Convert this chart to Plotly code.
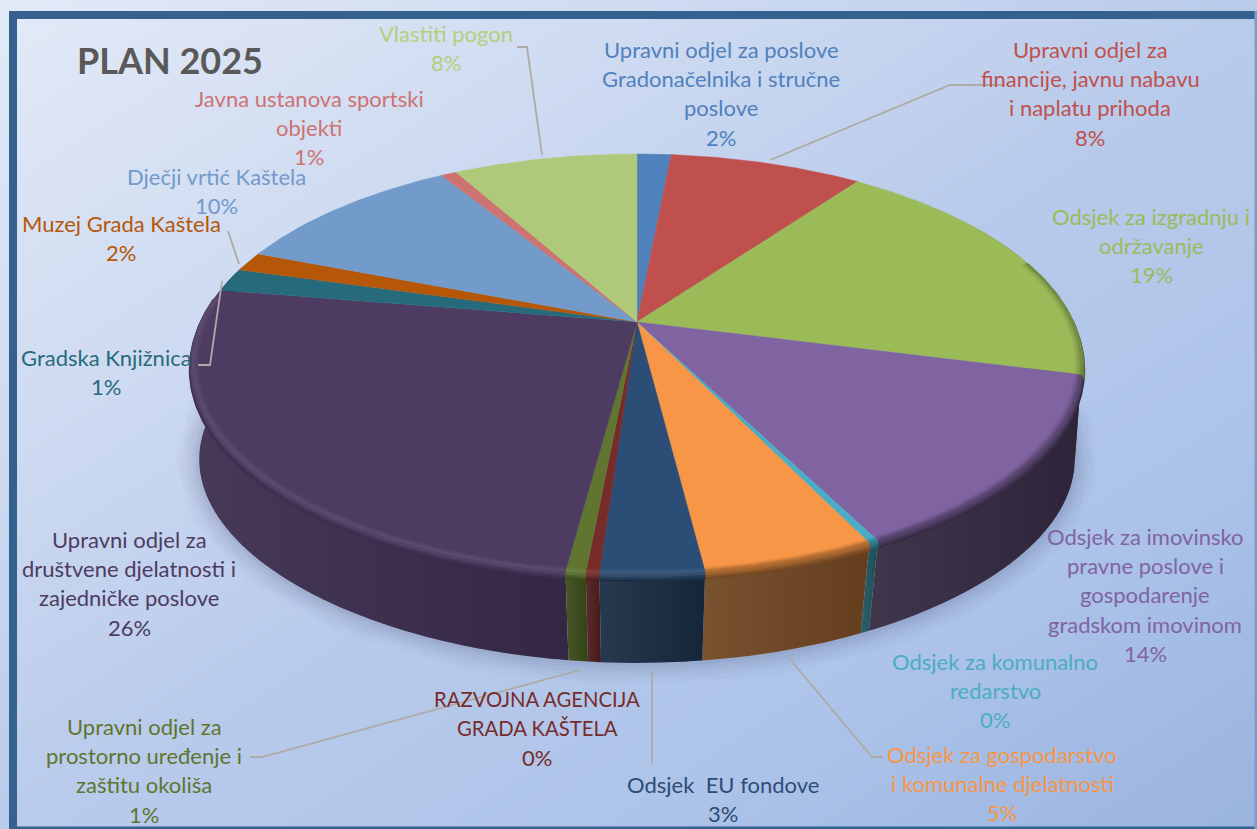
import math
import plotly.graph_objects as go

# ---- data ----
categories = [
    "Upravni odjel za poslove Gradonačelnika i stručne poslove",
    "Upravni odjel za financije, javnu nabavu i naplatu prihoda",
    "Odsjek za izgradnju i održavanje",
    "Odsjek za imovinsko pravne poslove i gospodarenje gradskom imovinom",
    "Odsjek za komunalno redarstvo",
    "Odsjek za gospodarstvo i komunalne djelatnosti",
    "Odsjek  EU fondove",
    "RAZVOJNA AGENCIJA GRADA KAŠTELA",
    "Upravni odjel za prostorno uređenje i zaštitu okoliša",
    "Upravni odjel za društvene djelatnosti i zajedničke poslove",
    "Gradska Knjižnica",
    "Muzej Grada Kaštela",
    "Dječji vrtić Kaštela",
    "Javna ustanova sportski objekti",
    "Vlastiti pogon",
]
values = [1.5, 8.5, 19.0, 13.5, 0.3, 5.2, 3.1, 0.4, 0.6, 25.5, 1.8, 1.5, 10.3, 0.7, 8.1]
percent_labels = ["2%", "8%", "19%", "14%", "0%", "5%", "3%", "0%", "1%", "26%", "1%", "2%", "10%", "1%", "8%"]
top_colors = ["#4f81bd", "#c0504d", "#9bbb59", "#8064a2", "#4bacc6", "#f79646", "#2c4d75", "#772c2a",
              "#5f7530", "#4d3b62", "#276a7c", "#b65708", "#729aca", "#cd7371", "#afc97a"]
side_colors = ["#27405e", "#602826", "#4d5d2c", "#332840", "#1f5560", "#6f4520", "#172a41", "#4f1c1c",
               "#3a4a18", "#392b4c", "#143a44", "#5b2c04", "#394d65", "#663938", "#57643d"]
label_colors = ["#4f81bd", "#c0504d", "#9bbb59", "#8064a2", "#4bacc6", "#f79646", "#2c4d75", "#772c2a",
                "#5f7530", "#4d3b62", "#276a7c", "#b65708", "#729aca", "#cd7371", "#b3cf7e"]
label_lines = [
    ["Upravni odjel za poslove", "Gradonačelnika i stručne", "poslove"],
    ["Upravni odjel za", "financije, javnu nabavu", "i naplatu prihoda"],
    ["Odsjek za izgradnju i", "održavanje"],
    ["Odsjek za imovinsko", "pravne poslove i", "gospodarenje", "gradskom imovinom"],
    ["Odsjek za komunalno", "redarstvo"],
    ["Odsjek za gospodarstvo", "i komunalne djelatnosti"],
    ["Odsjek  EU fondove"],
    ["RAZVOJNA AGENCIJA", "GRADA KAŠTELA"],
    ["Upravni odjel za", "prostorno uređenje i", "zaštitu okoliša"],
    ["Upravni odjel za", "društvene djelatnosti i", "zajedničke poslove"],
    ["Gradska Knjižnica"],
    ["Muzej Grada Kaštela"],
    ["Dječji vrtić Kaštela"],
    ["Javna ustanova sportski", "objekti"],
    ["Vlastiti pogon"],
]
label_cx = [721, 1090, 1151, 1145, 995, 1002, 723, 537, 144, 129, 106, 121, 216, 309, 446]
label_y0 = [49, 49, 216, 536, 661, 754, 784, 699, 726, 539, 357, 223, 176, 98, 33]
title_text = "PLAN 2025"

# ---- layout constants ----
W, H = 1257, 829
CX, CY = 637.0, 322.0
A, B, K = 436.0, 201.6, 0.2
BOTTOM_SHIFT = 99.0
LINE_H = 29.4
FONT = "Lato, Carlito, Calibri, sans-serif"
DARK_SLICES = {6, 7, 8, 9}


def proj(t, scale=1.0, shift=0.0):
    X, Y = math.sin(t), -math.cos(t)
    w = 1 - K * Y
    return CX + scale * A * X / w, CY + scale * B * Y / w + shift


def proj_bottom(t):
    X, Y = math.sin(t), -math.cos(t)
    w = 1 - K * Y
    sx_scale = 0.985 - 0.028 * Y * Y if Y > 0 else 0.985
    return CX + sx_scale * A * X / w, CY + 0.96 * B * Y / w + BOTTOM_SHIFT


def arc(t1, t2, scale=1.0, shift=0.0):
    n = max(3, int(abs(t2 - t1) / 0.012))
    pts = [proj(t1 + (t2 - t1) * i / n, scale, shift) for i in range(n + 1)]
    return [p[0] for p in pts], [p[1] for p in pts]


def arc_bottom(t1, t2):
    n = max(3, int(abs(t2 - t1) / 0.012))
    pts = [proj_bottom(t1 + (t2 - t1) * i / n) for i in range(n + 1)]
    return [p[0] for p in pts], [p[1] for p in pts]


def wall_strips(t1, t2):
    """Overlapping quads between top and bottom rim, so the silhouette is the full hull."""
    step = math.radians(1.5)
    xs, ys = [], []
    t = t1
    while t < t2:
        e = min(t + 2 * step, t2)
        x0, y0 = proj(t)
        x1, y1 = proj(e)
        x2, y2 = proj_bottom(e)
        x3, y3 = proj_bottom(t)
        xs += [x0, x1, x2, x3, x0, None]
        ys += [y0, y1, y2, y3, y0, None]
        t += step
    return xs[:-1], ys[:-1]


def to_hex(rgb):
    return "#%02x%02x%02x" % tuple(rgb)


def mix(c1, c2, f):
    a = [int(c1[i:i + 2], 16) for i in (1, 3, 5)]
    b = [int(c2[i:i + 2], 16) for i in (1, 3, 5)]
    return to_hex([round(a[i] + (b[i] - a[i]) * f) for i in range(3)])


def shade(c, f):
    return mix(c, "#ffffff", f) if f > 0 else mix(c, "#000000", -f)


fig = go.Figure()

# background gradient
fig.add_trace(go.Heatmap(
    x=[17, 636, 1254], y=[19, 423, 826],
    z=[[0, 1, 2], [1, 2, 3], [2, 3, 4]],
    zsmooth="best", showscale=False, hoverinfo="skip", zmin=0, zmax=4,
    colorscale=[[0, "#e2e9f7"], [0.25, "#cfdbf1"], [0.5, "#b9cbeb"], [0.75, "#adc3e9"], [1, "#9ab4e0"]],
))

total = sum(values)
angles = [0.0]
for v in values:
    angles.append(angles[-1] + v / total * 2 * math.pi)
slices = list(zip(range(len(values)), angles[:-1], angles[1:], top_colors, side_colors))

T_MIN, T_MAX = math.radians(60), math.radians(285)

# soft shadow under the body (ends are hidden behind the body)
for width, alpha in ((46, 0.02), (38, 0.025), (30, 0.03), (22, 0.035), (14, 0.04), (7, 0.05)):
    x, y = arc_bottom(T_MIN, T_MAX)
    fig.add_trace(go.Scatter(x=x, y=y, mode="lines", hoverinfo="skip",
                             line=dict(color=f"rgba(50,60,90,{alpha})", width=width)))

# side walls, back to front
for idx, t1, t2, top, side in sorted(slices, key=lambda s: abs((s[1] + s[2]) / 2 - math.pi), reverse=True):
    a1, a2 = max(t1, T_MIN), min(t2, T_MAX)
    if a2 <= a1:
        continue
    xs, ys = wall_strips(a1, a2)
    fig.add_trace(go.Scatter(
        x=xs, y=ys, mode="none", fill="toself", hoverinfo="skip",
        fillgradient=dict(type="horizontal",
                          colorscale=[[0, shade(side, 0.07)], [1, shade(side, -0.1)]]),
    ))

R0 = 445.0


def band_color(idx, top, side, pos):
    """Colour of the rim at position pos (0 = inner top surface, 1 = wall)."""
    if idx in DARK_SLICES:
        hl = shade(top, 0.09)
        return mix(top, hl, pos * 2.2) if pos < 0.45 else mix(hl, side, (pos - 0.45) / 0.55)
    return mix(top, side, pos)


# soft bevel between top surface and wall
bands = [(7, 0.95), (4.5, 0.8), (2, 0.62)]
for offset, pos in bands:
    for idx, t1, t2, top, side in slices:
        a1, a2 = max(t1, math.radians(72)), min(t2, math.radians(277))
        if a2 <= a1:
            continue
        x, y = arc(a1, a2, 1.0 + 0.25 * offset / R0, offset * 0.8)
        fig.add_trace(go.Scatter(x=x, y=y, mode="lines", hoverinfo="skip",
                                 line=dict(color=band_color(idx, top, side, pos), width=3)))

# top surface
for idx, t1, t2, top, side in slices:
    x, y = arc(t1, t2)
    fig.add_trace(go.Scatter(
        x=[CX] + x + [CX], y=[CY] + y + [CY], mode="lines", fill="toself", fillcolor=top,
        hoverinfo="skip", line=dict(color=top, width=0.4),
    ))

# inner part of the bevel, on the top surface
for d, pos in ((6.5, 0.08), (4.5, 0.2), (2.5, 0.35), (0.8, 0.5)):
    for idx, t1, t2, top, side in slices:
        a1, a2 = max(t1, math.radians(72)), min(t2, math.radians(277))
        if a2 <= a1:
            continue
        x, y = arc(a1, a2, 1.0 - d / R0, 0.0)
        fig.add_trace(go.Scatter(x=x, y=y, mode="lines", hoverinfo="skip",
                                 line=dict(color=band_color(idx, top, side, pos), width=2.2)))

# leader lines
leaders = [
    ([517, 527, 542], [47, 47, 155]),
    ([770, 950, 1003], [160, 85, 85]),
    ([228, 239], [231, 264]),
    ([198, 210, 222], [365, 365, 281]),
    ([250, 262, 580], [757, 757, 670]),
    ([652, 652], [672, 763]),
    ([789, 872, 883], [658, 757, 757]),
]
for lx, ly in leaders:
    fig.add_trace(go.Scatter(x=lx, y=ly, mode="lines", hoverinfo="skip",
                             line=dict(color="#aeaaa5", width=1.8)))

# labels, one annotation per line so the line pitch matches
annotations = []
for cx, y0, lines, pct, col in zip(label_cx, label_y0, label_lines, percent_labels, label_colors):
    for i, txt in enumerate(lines + [pct]):
        size = 20.3 if txt.isupper() and len(txt) > 4 else 22
        annotations.append(dict(x=cx, y=y0 + i * LINE_H, text=txt.replace("  ", "\u00a0\u00a0"),
                                showarrow=False, xref="x", yref="y",
                                xanchor="center", yanchor="middle",
                                font=dict(family=FONT, size=size, color=col)))
annotations.append(dict(x=75, y=60, text=f"<b>{title_text}</b>", showarrow=False, xref="x", yref="y",
                        xanchor="left", yanchor="middle",
                        font=dict(family=FONT, size=36, color="#595959")))

frame = "#35618f"
shapes = [
    dict(type="rect", x0=9, x1=1257, y0=11, y1=19, fillcolor=frame, line_width=0, layer="above"),
    dict(type="rect", x0=9, x1=17, y0=11, y1=829, fillcolor=frame, line_width=0, layer="above"),
    dict(type="rect", x0=9, x1=1257, y0=826.5, y1=829, fillcolor=frame, line_width=0, layer="above"),
    dict(type="rect", x0=1254.5, x1=1257, y0=11, y1=829, fillcolor="#7f9cc6", line_width=0, layer="above"),
]

fig.update_layout(
    width=W, height=H, margin=dict(l=0, r=0, t=0, b=0, pad=0),
    paper_bgcolor="white", plot_bgcolor="white", showlegend=False,
    xaxis=dict(range=[0, W], visible=False, fixedrange=True),
    yaxis=dict(range=[H, 0], visible=False, fixedrange=True),
    annotations=annotations, shapes=shapes,
)
fig.write_html("out.html", config={"displayModeBar": False},
               post_script="document.body.style.margin='0';document.body.style.overflow='hidden';")
